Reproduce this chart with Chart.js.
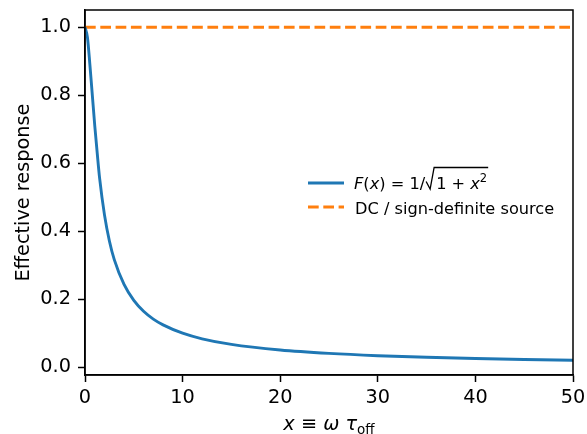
<!DOCTYPE html>
<html>
<head>
<meta charset="utf-8">
<script src="https://cdn.jsdelivr.net/npm/chart.js@4.4.1/dist/chart.umd.min.js"></script>
<style>
    html, body { margin: 0; padding: 0; background: #fff; }
    #wrap { width: 587px; height: 434px; }
</style>
</head>
<body>
<div id="wrap"><canvas id="graphCanvas" width="587" height="434"></canvas></div>
<script>
// values
const xValues = [0, 0.25, 0.5, 0.75, 1, 1.25, 1.5, 2, 2.5, 3, 4, 5, 6, 7, 8, 10, 12, 15, 20, 25, 30, 35, 40, 45, 50];
const responseValues = [1.0, 0.97, 0.89, 0.80, 0.71, 0.63, 0.555, 0.447, 0.371, 0.316, 0.243, 0.196, 0.164, 0.141, 0.124, 0.0995, 0.083, 0.0665, 0.05, 0.04, 0.0333, 0.0286, 0.025, 0.0222, 0.02];
const dcX = [0, 50];
const dcValues = [1.0, 1.0];
const xTicks = [0, 10, 20, 30, 40, 50];
const yTicks = [0.0, 0.2, 0.4, 0.6, 0.8, 1.0];

const FONT = 'DejaVu Sans';
const BLUE = '#1f77b4';
const ORANGE = '#ff7f0e';
const TICK_SIZE = 19.3;
const LEG_SIZE = 16.2;

let chart;

// draw a run of text pieces, return the x after the last one
function drawPieces(ctx, pieces, x, baseline) {
    pieces.forEach(p => {
        ctx.font = (p.italic ? 'italic ' : '') + p.size + 'px "' + FONT + '"';
        ctx.fillText(p.t, x, baseline + (p.dy || 0));
        x += ctx.measureText(p.t).width;
    });
    return x;
}

function piecesWidth(ctx, pieces) {
    let w = 0;
    pieces.forEach(p => {
        ctx.font = (p.italic ? 'italic ' : '') + p.size + 'px "' + FONT + '"';
        w += ctx.measureText(p.t).width;
    });
    return w;
}

// scales should not push the plot area in for their edge labels
function noPadding(s) {
    s.paddingTop = 0;
    s.paddingBottom = 0;
    s.paddingLeft = 0;
    s.paddingRight = 0;
}

const extrasPlugin = {
    id: 'extras',
    afterDraw(c) {
        const ctx = c.ctx;
        const a = c.chartArea;
        ctx.save();

        // frame on all four sides
        ctx.strokeStyle = '#000';
        ctx.lineWidth = 1.5;
        ctx.strokeRect(a.left, a.top, a.right - a.left, a.bottom - a.top);

        ctx.fillStyle = '#000';
        ctx.textAlign = 'left';
        ctx.textBaseline = 'alphabetic';

        // x axis title: x ≡ ω τ_off
        const title = [
            { t: 'x', italic: true, size: TICK_SIZE },
            { t: ' ≡ ', size: TICK_SIZE },
            { t: 'ω', italic: true, size: TICK_SIZE },
            { t: ' ', size: TICK_SIZE },
            { t: 'τ', italic: true, size: TICK_SIZE },
            { t: 'off', size: 13.5, dy: 4 }
        ];
        const tw = piecesWidth(ctx, title);
        drawPieces(ctx, title, (a.left + a.right) / 2 - tw / 2, 430);

        // y axis title
        ctx.save();
        ctx.translate(29, (a.top + a.bottom) / 2);
        ctx.rotate(-Math.PI / 2);
        ctx.textAlign = 'center';
        ctx.font = TICK_SIZE + 'px "' + FONT + '"';
        ctx.fillText('Effective response', 0, 0);
        ctx.restore();

        // legend
        const lx = 308, lx2 = 344, tx = 354;
        const y1 = 183, y2 = 207;
        ctx.lineWidth = 2.9;
        ctx.strokeStyle = BLUE;
        ctx.beginPath();
        ctx.moveTo(lx, y1);
        ctx.lineTo(lx2, y1);
        ctx.stroke();
        ctx.strokeStyle = ORANGE;
        ctx.setLineDash([10.7, 4.6]);
        ctx.beginPath();
        ctx.moveTo(lx, y2);
        ctx.lineTo(lx2, y2);
        ctx.stroke();
        ctx.setLineDash([]);

        const base1 = 188.5;
        let x = drawPieces(ctx, [
            { t: 'F', italic: true, size: LEG_SIZE },
            { t: '(', size: LEG_SIZE },
            { t: 'x', italic: true, size: LEG_SIZE },
            { t: ') = 1/', size: LEG_SIZE }
        ], tx, base1);
        // radical sign with overline
        const r0 = x + 1;
        const inner = [
            { t: '1 + ', size: LEG_SIZE },
            { t: 'x', italic: true, size: LEG_SIZE },
            { t: '2', size: 11.5, dy: -7 }
        ];
        const iw = piecesWidth(ctx, inner);
        ctx.strokeStyle = '#000';
        ctx.lineWidth = 1.3;
        ctx.beginPath();
        ctx.moveTo(r0, base1 - 7);
        ctx.lineTo(r0 + 4, base1 + 0.5);
        ctx.lineTo(r0 + 8, base1 - 21);
        ctx.lineTo(r0 + 10 + iw + 1, base1 - 21);
        ctx.stroke();
        drawPieces(ctx, inner, r0 + 10, base1);

        ctx.font = LEG_SIZE + 'px "' + FONT + '"';
        ctx.fillText('DC / sign-definite source', tx + 1, 213.5);

        ctx.restore();
    }
};

function initializeChart() {
    const ctx = document.getElementById('graphCanvas').getContext('2d');
    chart = new Chart(ctx, {
        type: 'line',
        data: {
            datasets: [
                {
                    label: 'F(x) = 1/√(1+x²)',
                    data: xValues.map((x, i) => ({ x: x, y: responseValues[i] })),
                    borderColor: BLUE,
                    borderWidth: 2.9,
                    pointRadius: 0,
                    cubicInterpolationMode: 'monotone',
                    fill: false
                },
                {
                    label: 'DC / sign-definite source',
                    data: dcX.map((x, i) => ({ x: x, y: dcValues[i] })),
                    borderColor: ORANGE,
                    borderWidth: 2.9,
                    borderDash: [10.7, 4.6],
                    pointRadius: 0,
                    fill: false
                }
            ]
        },
        plugins: [extrasPlugin],
        options: {
            responsive: false,
            animation: false,
            layout: { padding: { top: 10, right: 14, left: 0, bottom: 0 } },
            plugins: {
                legend: { display: false },
                tooltip: { enabled: false }
            },
            scales: {
                x: {
                    type: 'linear',
                    min: 0,
                    max: 50,
                    afterBuildTicks: s => { s.ticks = xTicks.map(v => ({ value: v })); },
                    afterFit: s => { s.height = 59; noPadding(s); },
                    grid: {
                        drawOnChartArea: false,
                        drawTicks: true,
                        tickLength: 7,
                        tickColor: '#000',
                        tickWidth: 1.5
                    },
                    border: { display: true, color: '#000', width: 1.5 },
                    ticks: {
                        color: '#000',
                        padding: 4,
                        maxRotation: 0,
                        font: { family: FONT, size: TICK_SIZE },
                        callback: v => String(v)
                    }
                },
                y: {
                    type: 'linear',
                    min: -0.0235,
                    max: 1.0506,
                    afterBuildTicks: s => { s.ticks = yTicks.map(v => ({ value: v })); },
                    afterFit: s => { s.width = 85; noPadding(s); },
                    grid: {
                        drawOnChartArea: false,
                        drawTicks: true,
                        tickLength: 7,
                        tickColor: '#000',
                        tickWidth: 1.5
                    },
                    border: { display: true, color: '#000', width: 1.5 },
                    ticks: {
                        color: '#000',
                        padding: 7,
                        font: { family: FONT, size: TICK_SIZE },
                        callback: v => v.toFixed(1)
                    }
                }
            }
        }
    });
}

window.onload = initializeChart;
</script>
</body>
</html>
